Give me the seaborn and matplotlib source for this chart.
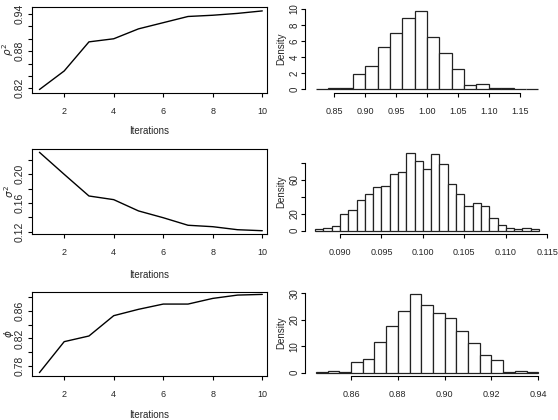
import matplotlib
matplotlib.use("Agg")
import matplotlib.pyplot as plt
import numpy as np
import pandas as pd
import seaborn as sns

# trace plots (left column)
iterations = [1, 2, 3, 4, 5, 6, 7, 8, 9, 10]
rho2_trace = [0.818, 0.848, 0.895, 0.900, 0.916, 0.926, 0.936, 0.938, 0.941, 0.945]
sigma2_trace = [0.2307, 0.2000, 0.1698, 0.1647, 0.1490, 0.1395, 0.1290, 0.1270, 0.1228, 0.1214]
phi_trace = [0.7704, 0.8152, 0.8234, 0.8528, 0.8620, 0.8696, 0.8696, 0.8778, 0.8826, 0.8836]

# posterior histograms (right column): left bin edge, bin width, densities
rho2_start, rho2_width = 0.82, 0.02
rho2_dens = [0.02, 0.10, 0.15, 1.83, 2.90, 5.20, 7.04, 8.90, 9.80, 6.54, 4.46, 2.46,
             0.54, 0.58, 0.08, 0.08, 0.06, 0.04]

sigma2_start, sigma2_width = 0.087, 0.001
sigma2_dens = [2.0, 2.8, 5.0, 19.3, 24.0, 36.0, 44.0, 51.6, 53.0, 67.0, 69.3, 92.5,
               82.0, 73.0, 90.6, 79.5, 54.7, 43.3, 29.5, 32.3, 28.7, 15.4, 6.3,
               3.2, 2.4, 3.5, 2.0]

phi_start, phi_width = 0.845, 0.005
phi_dens = [0.4, 0.8, 0.4, 4.0, 5.3, 11.5, 17.7, 23.2, 29.6, 25.7, 22.7, 20.6,
            15.9, 11.2, 6.6, 4.7, 0.4, 0.8, 0.15]

sns.set_style("white")
plt.rcParams["font.family"] = ["Liberation Sans", "DejaVu Sans"]

W, H = 558, 420
fig = plt.figure(figsize=(W / 100, H / 100), dpi=100)


def rect(l, t, r, b):
    return [l / W, 1 - b / H, (r - l) / W, (b - t) / H]


narrow = ["Liberation Sans Narrow", "Liberation Sans", "DejaVu Sans"]


def style_ticks(ax, xticks, xlabels, yticks, ylabels, ypad, ysize):
    ax.set_xticks(xticks)
    ax.set_xticklabels(xlabels)
    ax.set_yticks(yticks)
    ax.set_yticklabels(ylabels, rotation=90, va="center")
    ax.tick_params(axis="both", direction="out", length=3, width=0.8,
                   color="black", bottom=True, left=True)
    ax.tick_params(axis="x", pad=7, labelsize=6.5)
    ax.tick_params(axis="y", pad=ypad, labelsize=ysize)
    for lab in ax.get_xticklabels():
        lab.set_family(narrow)


def trace_panel(box, ylim, vals, yticks, ylabels, ylab, xlab_off):
    ax = fig.add_axes(rect(*box))
    sns.lineplot(x=iterations, y=vals, color="black", linewidth=1.0, ax=ax)
    ax.set_xlim(0.70, 10.19)
    ax.set_ylim(*ylim)
    style_ticks(ax, [2, 4, 6, 8, 10], ["2", "4", "6", "8", "10"], yticks, ylabels, 2.5, 7.5)
    for s in ax.spines.values():
        s.set_visible(True)
        s.set_color("black")
        s.set_linewidth(0.8)
    ax.set_xlabel("Iterations", fontsize=7, family=narrow)
    ax.xaxis.set_label_coords(0.5, xlab_off)
    ax.set_ylabel(ylab, fontsize=7.5)
    ax.yaxis.set_label_coords(-0.070, 0.5)
    return ax


def hist_panel(box, xlim, ylim, start, width, dens, xticks, xlabels, yticks, ylabels, ybound):
    ax = fig.add_axes(rect(*box))
    edges = start + width * np.arange(len(dens) + 1)
    df = pd.DataFrame({"value": (edges[:-1] + edges[1:]) / 2, "density": dens})
    sns.histplot(data=df, x="value", weights="density", bins=list(edges), stat="count",
                 color="white", edgecolor="#222222", linewidth=0.9, alpha=1, ax=ax)
    ax.set_xlim(*xlim)
    ax.set_ylim(*ylim)
    style_ticks(ax, xticks, xlabels, yticks, ylabels, 0.8, 7)
    for side in ["top", "right"]:
        ax.spines[side].set_visible(False)
    for side in ["left", "bottom"]:
        ax.spines[side].set_visible(True)
        ax.spines[side].set_color("black")
        ax.spines[side].set_linewidth(0.8)
    ax.spines["bottom"].set_bounds(xticks[0], xticks[-1])
    ax.spines["left"].set_bounds(*ybound)
    ax.set_xlabel("")
    ax.set_ylabel("Density", fontsize=7)
    ax.yaxis.set_label_coords(-0.076, 0.5)
    return ax


trace_panel((32, 6.7, 267, 92.7), (0.8129, 0.9518), rho2_trace,
            [0.82, 0.84, 0.86, 0.88, 0.90, 0.92, 0.94],
            ["0.82", "", "", "0.88", "", "", "0.94"], r"$\rho^2$", -0.39)
trace_panel((32, 149, 267, 234.3), (0.1164, 0.2353), sigma2_trace,
            [0.12, 0.14, 0.16, 0.18, 0.20, 0.22],
            ["0.12", "", "0.16", "", "0.20", ""], r"$\sigma^2$", -0.42)
trace_panel((32, 291.7, 267, 376), (0.7655, 0.8875), phi_trace,
            [0.78, 0.80, 0.82, 0.84, 0.86, 0.88],
            ["0.78", "", "0.82", "", "0.86", ""], r"$\phi$", -0.40)

hist_panel((305, 5, 553, 93), (0.8027, 1.2038), (-0.5, 10.5),
           rho2_start, rho2_width, rho2_dens,
           [0.85, 0.90, 0.95, 1.00, 1.05, 1.10, 1.15],
           ["0.85", "0.90", "0.95", "1.00", "1.05", "1.10", "1.15"],
           [0, 2, 4, 6, 8, 10], ["0", "2", "4", "6", "8", "10"], (0, 10))
hist_panel((305, 149, 553, 234.3), (0.08578, 0.11569), (-4.3, 96.7),
           sigma2_start, sigma2_width, sigma2_dens,
           [0.090, 0.095, 0.100, 0.105, 0.110, 0.115],
           ["0.090", "0.095", "0.100", "0.105", "0.110", "0.115"],
           [0, 20, 40, 60, 80], ["0", "20", "", "60", ""], (0, 80))
hist_panel((305, 290, 553, 376), (0.84035, 0.9463), (-1.25, 31.25),
           phi_start, phi_width, phi_dens,
           [0.86, 0.88, 0.90, 0.92, 0.94],
           ["0.86", "0.88", "0.90", "0.92", "0.94"],
           [0, 10, 20, 30], ["0", "10", "20", "30"], (0, 30))

fig.savefig("out.png", dpi=100)
